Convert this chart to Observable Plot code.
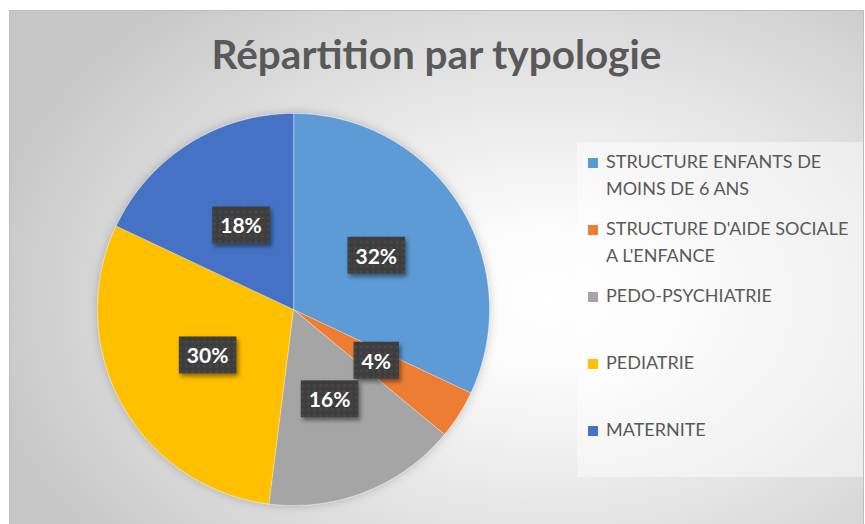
<!DOCTYPE html>
<html><head><meta charset="utf-8">
<script src="https://cdn.jsdelivr.net/npm/d3@7"></script>
<script src="https://cdn.jsdelivr.net/npm/@observablehq/plot@0.6"></script>
<style>
html,body{margin:0;padding:0;background:#fff;width:865px;height:524px;overflow:hidden;font-family:Lato,"Open Sans",sans-serif;}
#panel{position:absolute;left:9px;top:10px;width:853px;height:514px;
  background:radial-gradient(ellipse 68% 78% at 63% 56%, #ffffff 0%, #fbfbfb 18%, #ebebeb 45%, #d6d6d6 78%, #c6c6c6 100%);
  border-left:1px solid #bdbdbd;border-top:1px solid #bdbdbd;border-right:1px solid #bdbdbd;}
#title{position:absolute;left:0;width:100%;top:22px;line-height:42px;text-align:center;font-weight:700;font-size:40.5px;color:#595959;}
#chart{position:absolute;left:63px;top:78px;}
#legend{position:absolute;left:567px;top:131px;width:286px;height:335px;background:rgba(255,255,255,0.45);}
.item{position:absolute;left:0;width:286px;}
.sw{position:absolute;left:11px;top:10px;width:10px;height:10px;}
.lt{position:absolute;left:29px;width:250px;font-size:18px;line-height:27px;color:#595959;}
</style>
</head><body>
<div id="panel">
  <div id="title">Répartition par typologie</div>
  <div id="chart"></div>
  <div id="legend"></div>
</div>
<script>
const categories = ["STRUCTURE ENFANTS DE MOINS DE 6 ANS","STRUCTURE D'AIDE SOCIALE A L'ENFANCE","PEDO-PSYCHIATRIE","PEDIATRIE","MATERNITE"];
const values = [32, 4, 16, 30, 18];
const labels = ["32%", "4%", "16%", "30%", "18%"];
const colors = ["#5B9BD5", "#ED7D31", "#A5A5A5", "#FFC000", "#4472C4"];

const arcs = d3.pie().sort(null)(values);
const pts = [];
arcs.forEach((a, i) => {
  pts.push({cat: categories[i], x: 0, y: 0});
  const n = Math.max(2, Math.ceil((a.endAngle - a.startAngle) / (Math.PI / 360)));
  for (let k = 0; k <= n; k++) {
    const t = a.startAngle + (a.endAngle - a.startAngle) * k / n;
    pts.push({cat: categories[i], x: Math.sin(t), y: Math.cos(t)});
  }
});
const labelData = arcs.map((a, i) => {
  const m = (a.startAngle + a.endAngle) / 2;
  return {cat: categories[i], text: labels[i], x: 0.5 * Math.sin(m), y: 0.5 * Math.cos(m)};
});

const chart = Plot.plot({
  width: 440, height: 440, margin: 0,
  style: {background: "transparent", fontFamily: "Lato, 'Open Sans', sans-serif", overflow: "visible"},
  x: {domain: [-1, 1], range: [24, 416], axis: null},
  y: {domain: [-1, 1], range: [416, 24], axis: null},
  color: {domain: categories, range: colors},
  marks: [
    Plot.line(pts, {x: "x", y: "y", z: "cat", fill: "cat", stroke: "#ffffff", strokeWidth: 0.6, strokeOpacity: 0.6, curve: "linear-closed"}),
    Plot.text(labelData, {x: "x", y: "y", text: "text", fill: "#ffffff", fontSize: 21, fontWeight: "bold"})
  ]
});
document.getElementById("chart").appendChild(chart);

// defs: texture and shadows
const svg = d3.select(chart);
const defs = svg.insert("defs", ":first-child");
const pat = defs.append("pattern").attr("id", "tex").attr("width", 6).attr("height", 6).attr("patternUnits", "userSpaceOnUse");
pat.append("rect").attr("width", 6).attr("height", 6).attr("fill", "#3d3d3d");
pat.append("circle").attr("cx", 3).attr("cy", 3).attr("r", 1.7).attr("fill", "#474747");
defs.append("filter").attr("id", "sh").attr("x", "-30%").attr("y", "-30%").attr("width", "170%").attr("height", "180%")
  .append("feDropShadow").attr("dx", 2).attr("dy", 3).attr("stdDeviation", 2).attr("flood-color", "#000").attr("flood-opacity", 0.45);
defs.append("filter").attr("id", "glow").attr("x", "-10%").attr("y", "-10%").attr("width", "120%").attr("height", "120%")
  .append("feDropShadow").attr("dx", 0).attr("dy", 0).attr("stdDeviation", 5).attr("flood-color", "#000").attr("flood-opacity", 0.22);
svg.select('g[aria-label="line"]').attr("filter", "url(#glow)");

svg.selectAll('g[aria-label="text"] text').each(function() {
  const node = this;
  const b = node.getBBox();
  const w = b.width + 16, h = 37;
  const cx = b.x + b.width / 2, cy = b.y + b.height / 2;
  const r = document.createElementNS("http://www.w3.org/2000/svg", "rect");
  r.setAttribute("x", cx - w / 2); r.setAttribute("y", cy - h / 2);
  r.setAttribute("width", w); r.setAttribute("height", h);
  r.setAttribute("fill", "url(#tex)"); r.setAttribute("filter", "url(#sh)");
  if (node.getAttribute("transform")) r.setAttribute("transform", node.getAttribute("transform"));
  node.parentNode.insertBefore(r, node);
});

// legend
const legend = d3.select("#legend");
categories.forEach((c, i) => {
  const it = legend.append("div").attr("class", "item").style("top", (6 + i * 67) + "px");
  it.append("div").attr("class", "sw").style("background", colors[i]);
  it.append("div").attr("class", "lt").text(c);
});
</script>
</body></html>
